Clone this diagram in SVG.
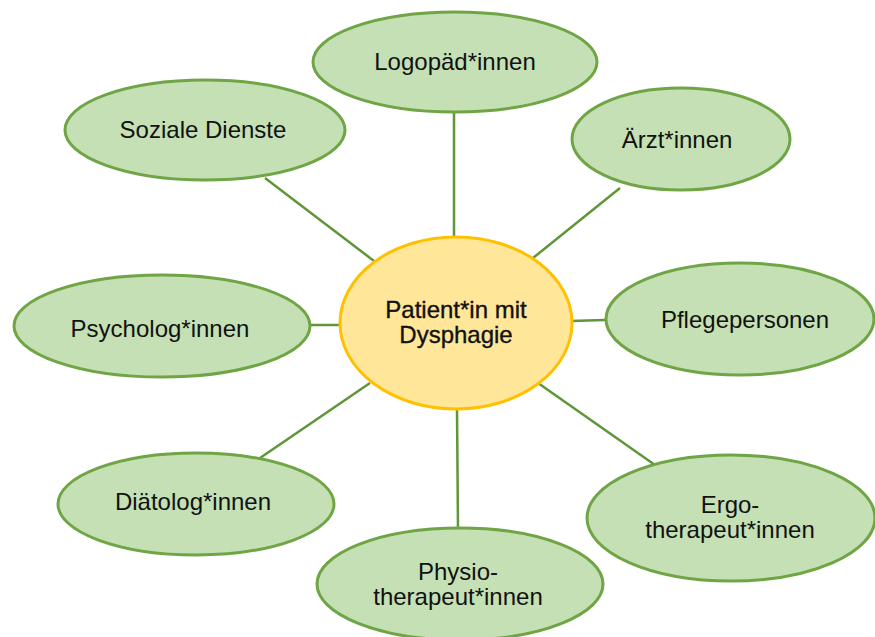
<svg xmlns="http://www.w3.org/2000/svg" width="875" height="637" viewBox="0 0 875 637">
<style>
.sat{fill:#C5E0B4;stroke:#6FA544;stroke-width:3}
.core{fill:#FFE699;stroke:#FFC000;stroke-width:3}
.con{stroke:#5E9638;stroke-width:2.5;fill:none}
text{font-family:"Liberation Sans",Arial,sans-serif;font-size:24px;fill:#111;text-anchor:middle}
.ct{stroke:#111;stroke-width:0.35}
</style>
<rect width="875" height="637" fill="#fff"/>
<g id="connectors">
<line class="con" x1="454" y1="112" x2="454" y2="238"/>
<line class="con" x1="265" y1="178" x2="374" y2="261"/>
<line class="con" x1="620" y1="188" x2="533" y2="258"/>
<line class="con" x1="310" y1="325" x2="341" y2="325"/>
<line class="con" x1="571" y1="321" x2="605" y2="320"/>
<line class="con" x1="260" y1="458" x2="370" y2="383"/>
<line class="con" x1="457" y1="409" x2="458" y2="530"/>
<line class="con" x1="538" y1="383" x2="655" y2="465"/>
</g>
<g id="logopaed"><ellipse class="sat" cx="455" cy="62" rx="142" ry="50"/><text x="455" y="70">Logopäd*innen</text></g>
<g id="soziale"><ellipse class="sat" cx="205" cy="130" rx="140" ry="50"/><text x="203" y="138">Soziale Dienste</text></g>
<g id="aerzte"><ellipse class="sat" cx="681" cy="139" rx="109" ry="51"/><text x="677" y="148">Ärzt*innen</text></g>
<g id="psycholog"><ellipse class="sat" cx="162" cy="326" rx="148" ry="51"/><text x="160" y="337">Psycholog*innen</text></g>
<g id="pflege"><ellipse class="sat" cx="740" cy="319" rx="134" ry="56"/><text x="745" y="328">Pflegepersonen</text></g>
<g id="diaetolog"><ellipse class="sat" cx="196" cy="504" rx="138" ry="51"/><text x="193" y="510">Diätolog*innen</text></g>
<g id="ergo"><ellipse class="sat" cx="731" cy="518" rx="144" ry="63"/><text x="730" y="513">Ergo-</text><text x="730" y="538">therapeut*innen</text></g>
<g id="physio"><ellipse class="sat" cx="460" cy="584" rx="143" ry="56"/><text x="458" y="580">Physio-</text><text x="458" y="605">therapeut*innen</text></g>
<g id="patient"><ellipse class="core" cx="456" cy="323" rx="116" ry="86"/><text class="ct" x="456" y="318">Patient*in mit</text><text class="ct" x="456" y="343">Dysphagie</text></g>
</svg>
